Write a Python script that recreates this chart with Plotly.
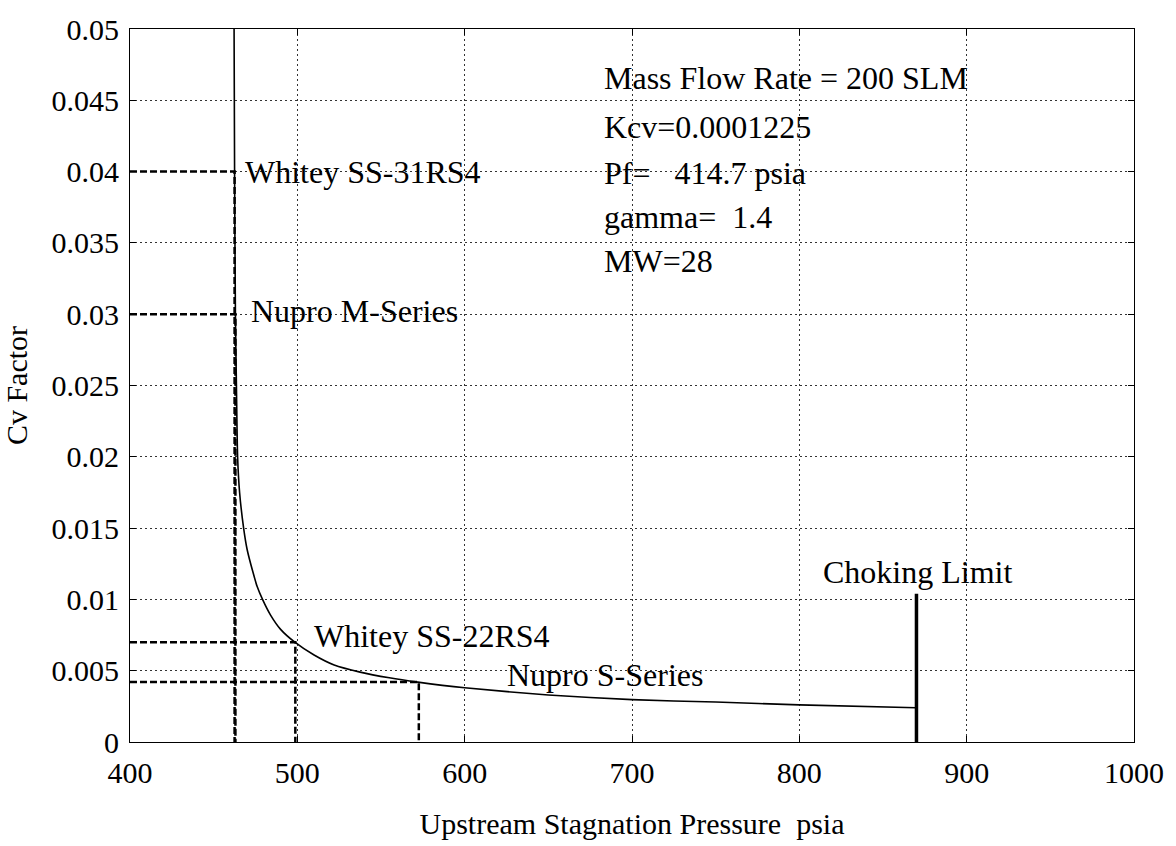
import plotly.graph_objects as go

# ---- data ----
pressure = [462.2, 462.5, 463.0, 463.6, 464.3, 465.5, 467.9, 470.0, 473.5, 476.0, 479.2,
            484.0, 490.0, 498.5, 510.0, 522.0, 537.5, 555.0, 572.0, 600.0, 650.0,
            700.0, 750.0, 800.0, 870.0]
cv = [0.05, 0.04, 0.03, 0.025, 0.02, 0.0175, 0.015, 0.0135, 0.0119, 0.0109, 0.01,
      0.0089, 0.0079, 0.007, 0.0061, 0.0054, 0.0049, 0.0045, 0.0042, 0.0038, 0.0033,
      0.00297, 0.0028, 0.0026, 0.0024]

valve_names = ["Whitey SS-31RS4", "Nupro M-Series", "Whitey SS-22RS4", "Nupro S-Series"]
valve_cv = [0.04, 0.03, 0.007, 0.0042]
valve_p = [462.5, 463.0, 498.8, 572.6]
label_p = [467.8, 471.2, 509.0, 624.0]
label_cv = [0.04, 0.0302, 0.0074, 0.0047]

choke_p = 870.0
choke_cv = 0.0104
choke_label = "Choking Limit"
choke_label_p = 813.0
choke_label_cv = 0.0119

info_lines = ["Mass Flow Rate = 200 SLM", "Kcv=0.0001225",
              "Pf=\u00a0\u00a0\u00a0414.7\u00a0psia", "gamma=\u00a0\u00a01.4", "MW=28"]
info_p = 682.0
info_cv = [0.04655, 0.0431, 0.0399, 0.0368, 0.0337]

x_ticks = [400, 500, 600, 700, 800, 900, 1000]
y_ticks = [0, 0.005, 0.01, 0.015, 0.02, 0.025, 0.03, 0.035, 0.04, 0.045, 0.05]
y_ticktext = ["0", "0.005", "0.01", "0.015", "0.02", "0.025", "0.03", "0.035", "0.04", "0.045", "0.05"]

FONT = "Liberation Serif, Times New Roman, serif"
fs = 30
fs_ann = 32

fig = go.Figure()

# dashed reference lines for valves
for p, c in zip(valve_p, valve_cv):
    fig.add_trace(go.Scatter(x=[400, p, p], y=[c, c, 0], mode="lines",
                             line=dict(color="black", width=2.5, dash="7px,3px"),
                             hoverinfo="skip", showlegend=False))

# main curve
fig.add_trace(go.Scatter(x=pressure, y=cv, mode="lines",
                         line=dict(color="black", width=1.6, shape="spline", smoothing=0.6),
                         showlegend=False))

# choking limit
fig.add_trace(go.Scatter(x=[choke_p, choke_p], y=[0, choke_cv], mode="lines",
                         line=dict(color="black", width=3.5), showlegend=False))

annotations = []
for name, p, c in zip(valve_names, label_p, label_cv):
    annotations.append(dict(x=p, y=c, text=name, xanchor="left", yanchor="middle",
                            showarrow=False, font=dict(family=FONT, size=fs_ann, color="black")))
annotations.append(dict(x=choke_label_p, y=choke_label_cv, text=choke_label, xanchor="left",
                        yanchor="middle", showarrow=False,
                        font=dict(family=FONT, size=fs_ann, color="black")))
for t, c in zip(info_lines, info_cv):
    annotations.append(dict(x=info_p, y=c, text=t, xanchor="left", yanchor="middle",
                            showarrow=False, font=dict(family=FONT, size=fs_ann, color="black")))

fig.update_layout(
    width=1176, height=846,
    margin=dict(l=129, r=39, t=20, b=101),
    paper_bgcolor="white", plot_bgcolor="white",
    font=dict(family=FONT, size=fs, color="black"),
    annotations=annotations,
    showlegend=False,
)
fig.update_xaxes(range=[400, 1000], tickvals=x_ticks, ticks="inside", ticklen=6,
                 tickcolor="black", showline=True, linecolor="black", linewidth=1,
                 mirror="ticks", showgrid=True, gridcolor="#333", griddash="2px,3px",
                 gridwidth=1, zeroline=False, ticklabelstandoff=4,
                 title=dict(text="Upstream Stagnation Pressure\u00a0\u00a0psia",
                            font=dict(family=FONT, size=fs), standoff=24))
fig.update_yaxes(range=[0, 0.05], tickvals=y_ticks, ticktext=y_ticktext, ticks="inside",
                 ticklen=6, tickcolor="black", showline=True, linecolor="black",
                 linewidth=1, mirror="ticks", showgrid=True, gridcolor="#333",
                 griddash="2px,3px", gridwidth=1, zeroline=False, ticklabelstandoff=4,
                 title=dict(text="Cv Factor", font=dict(family=FONT, size=fs), standoff=18))

fig.write_html("out.html")
